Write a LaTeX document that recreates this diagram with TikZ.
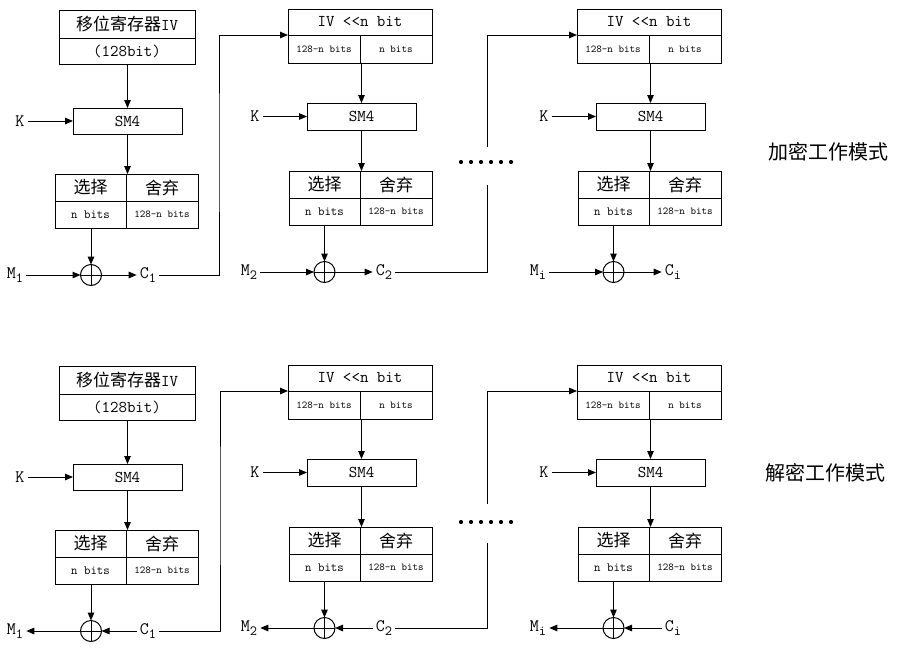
\documentclass[tikz,border=0pt]{standalone}
\usepackage{fontspec}
\setmonofont{Latin Modern Mono}
\newfontfamily\cjk{Noto Sans CJK SC}
\usetikzlibrary{arrows.meta}
\newcommand\mfont{\ttfamily\fontsize{16.5}{16.5}\selectfont}
\newcommand\kfont{\ttfamily\fontsize{17.5}{17.5}\selectfont}
\newcommand\cfont{\cjk\fontsize{17}{17}\selectfont}
\newcommand\sfont{\ttfamily\fontsize{10.5}{10.5}\selectfont}
\newcommand\nfont{\ttfamily\fontsize{12.5}{12.5}\selectfont}
\newcommand\tfont{\cjk\fontsize{20}{20}\selectfont}
\newcommand\subx[1]{\raisebox{-3.5pt}{\ttfamily\fontsize{14}{14}\selectfont #1}}
\tikzset{
  cell/.style={draw, line width=1pt, inner sep=0pt, outer sep=0pt, anchor=center},
  xorc/.style={draw, circle, line width=1pt, minimum size=21pt, inner sep=0pt, outer sep=0pt},
  lbl/.style={inner sep=3pt, font=\kfont},
  arr/.style={-{Triangle[length=8pt,width=6.5pt]}, line width=1pt},
  ln/.style={line width=1pt},
  ttl/.style={inner sep=0pt, font=\tfont}
}
% cell: name, x1, y1, x2, y2, text
\newcommand\cell[6]{\node[cell, minimum width={(#4)-(#2)}, minimum height={(#5)-(#3)}] (#1) at ({((#2)+(#4))/2},{((#3)+(#5))/2}) {#6};}
% generic stage: id, x, y, subscript
\newcommand\stagegen[4]{%
  \cell{ivt#1}{#2}{#3}{#2+144}{#3+26}{\mfont IV <<n bit}
  \cell{ivl#1}{#2}{#3+26}{#2+72}{#3+54}{\sfont 128-n bits}
  \cell{ivr#1}{#2+72}{#3+26}{#2+144}{#3+54}{\sfont n bits}
  \cell{sm#1}{#2+19}{#3+94}{#2+128}{#3+121}{\mfont SM4}
  \cell{sa#1}{#2+1}{#3+162}{#2+72}{#3+189}{\cfont 选择}
  \cell{sb#1}{#2+72}{#3+162}{#2+144}{#3+189}{\cfont 舍弃}
  \cell{sc#1}{#2+1}{#3+189}{#2+72}{#3+216}{\nfont n bits}
  \cell{sd#1}{#2+72}{#3+189}{#2+144}{#3+216}{\sfont 128-n bits}
  \node[xorc] (x#1) at ({#2+36.5},{#3+263}) {};
  \node[lbl] (k#1) at ({#2-33},{#3+107.5}) {K};
  \node[lbl] (m#1) at ({#2-39},{#3+263}) {M\subx{#4}};
  \node[lbl] (c#1) at ({#2+96},{#3+263}) {C\subx{#4}};
  \draw[arr] (sm#1.north |- ivl#1.south) -- (sm#1.north);
  \draw[arr] (sm#1.south) -- (sm#1.south |- sa#1.north);
  \draw[arr] (x#1.north |- sc#1.south) -- (x#1.north);
  \draw[arr] (k#1) -- (sm#1);
  \draw[ln] (x#1.north) -- (x#1.south) (x#1.west) -- (x#1.east);
}
\newcommand\stageone[4]{%
  \cell{ivt#1}{#2}{#3}{#2+136}{#3+28}{\cfont 移位寄存器\mfont IV}
  \cell{ivb#1}{#2}{#3+28}{#2+136}{#3+54}{\mfont (128bit)}
  \cell{sm#1}{#2+14}{#3+98}{#2+123}{#3+124}{\mfont SM4}
  \cell{sa#1}{#2-4}{#3+164}{#2+67}{#3+191}{\cfont 选择}
  \cell{sb#1}{#2+67}{#3+164}{#2+139}{#3+191}{\cfont 舍弃}
  \cell{sc#1}{#2-4}{#3+191}{#2+67}{#3+218}{\nfont n bits}
  \cell{sd#1}{#2+67}{#3+191}{#2+139}{#3+218}{\sfont 128-n bits}
  \node[xorc] (x#1) at ({#2+32},{#3+265}) {};
  \node[lbl] (k#1) at ({#2-39},{#3+111}) {K};
  \node[lbl] (m#1) at ({#2-44},{#3+265}) {M\subx{#4}};
  \node[lbl] (c#1) at ({#2+89},{#3+265}) {C\subx{#4}};
  \draw[arr] (sm#1.north |- ivb#1.south) -- (sm#1.north);
  \draw[arr] (sm#1.south) -- (sm#1.south |- sa#1.north);
  \draw[arr] (x#1.north |- sc#1.south) -- (x#1.north);
  \draw[arr] (k#1) -- (sm#1);
  \draw[ln] (x#1.north) -- (x#1.south) (x#1.west) -- (x#1.east);
}
\begin{document}
\begin{tikzpicture}[x=1pt,y=-1pt]
\useasboundingbox[fill=white] (0,0) rectangle (905,659);
% ---------- encryption ----------
\stageone{e1}{59}{10}{1}
\stagegen{e2}{288}{9}{2}
\stagegen{e3}{577}{9}{i}
\draw[arr] (me1) -- (xe1);
\draw[arr] (xe1) -- (ce1);
\draw[arr] (me2) -- (xe2);
\draw[arr] (xe2) -- (ce2);
\draw[arr] (me3) -- (xe3);
\draw[arr] (xe3) -- (ce3);
\coordinate (je1) at (219,150);
\draw[arr] (ce1.east) -| (je1) |- (ivle2.north west);
\coordinate (gae) at (487,185);
\coordinate (gbe) at (487,147);
\draw[ln] (ce2.east) -| (gae);
\draw[arr] (gbe) |- (ivle3.north west);
\foreach \i in {0,...,5} \fill (461+10*\i,162) circle (2.1);
\node[ttl] (enc) at (828,152) {加密工作模式};
% ---------- decryption ----------
\stageone{d1}{59}{366}{1}
\stagegen{d2}{288}{365}{2}
\stagegen{d3}{577}{365}{i}
\draw[arr] (xd1) -- (md1);
\draw[arr] (cd1) -- (xd1);
\draw[arr] (xd2) -- (md2);
\draw[arr] (cd2) -- (xd2);
\draw[arr] (xd3) -- (md3);
\draw[arr] (cd3) -- (xd3);
\coordinate (jd1) at (220,500);
\draw[arr] (cd1.east) -| (jd1) |- (ivld2.north west);
\coordinate (gad) at (487,543);
\coordinate (gbd) at (487,504);
\draw[ln] (cd2.east) -| (gad);
\draw[arr] (gbd) |- (ivld3.north west);
\foreach \i in {0,...,5} \fill (461+10*\i,522) circle (2.1);
\node[ttl] (dec) at (825,473) {解密工作模式};
\end{tikzpicture}
\end{document}
